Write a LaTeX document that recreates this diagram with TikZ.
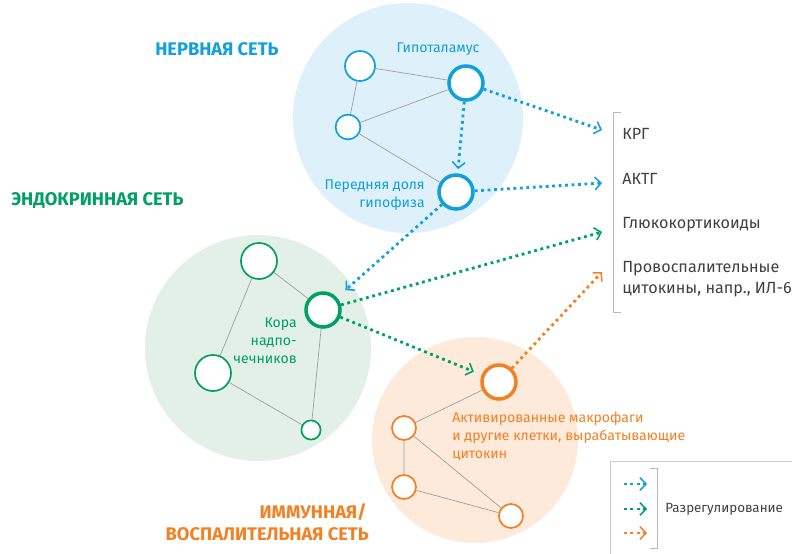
\documentclass[tikz,border=0pt]{standalone}
\usepackage{fontspec}
\setmainfont{Fira Sans}
\usetikzlibrary{arrows.meta}
\definecolor{nervblau}{RGB}{18,160,220}
\definecolor{nervhell}{RGB}{222,240,250}
\definecolor{endogruen}{RGB}{0,160,100}
\definecolor{endohell}{RGB}{226,240,232}
\definecolor{immunorange}{RGB}{244,128,36}
\definecolor{immunhell}{RGB}{253,234,219}
\definecolor{textgrau}{RGB}{64,64,64}
\tikzset{
  knot/.style={circle,fill=white,draw,line width=1.2pt,inner sep=0pt},
  hub/.style={knot,line width=2.5pt,minimum size=0.85cm},
  kante/.style={draw=gray!75,line width=0.5pt},
  dysreg/.style={line width=2pt,dash pattern=on 2pt off 2.6pt,
    -{Straight Barb[length=1.5mm,width=3.2mm,line width=1.1pt]}},
  titel/.style={font=\fontsize{13}{15}\selectfont\bfseries,inner sep=0pt},
  beschr/.style={font=\fontsize{10}{12.8}\selectfont,inner sep=0pt},
  liste/.style={font=\fontsize{11.5}{15.5}\selectfont,text=textgrau,anchor=base west,inner sep=0pt}
}
\begin{document}
\begin{tikzpicture}[x=0.025cm,y=-0.025cm]
\useasboundingbox (0,0) rectangle (792,554);
%netze%
\fill [nervhell] (408,118) circle (115);
\fill [endohell] (258,348) circle (113);
\fill [immunhell] (475,440) circle (103);

%nervensystem%
\node [knot,draw=nervblau,minimum size=0.75cm] (n1) at (360,66) {};
\node [hub,draw=nervblau] (hyp) at (466,83) {};
\node [knot,draw=nervblau,minimum size=0.62cm] (n2) at (348,127) {};
\node [hub,draw=nervblau] (hyph) at (456,192) {};
\draw [kante] (n1)--(hyp) (n1)--(n2) (n2)--(hyp) (n2)--(hyph);

%endokrin%
\node [knot,draw=endogruen,minimum size=0.9cm] (g1) at (259,261) {};
\node [hub,draw=endogruen] (kora) at (323,310) {};
\node [knot,draw=endogruen,minimum size=0.9cm] (g2) at (213,373) {};
\node [knot,draw=endogruen,minimum size=0.48cm] (g3) at (311,430) {};
\draw [kante] (g1)--(kora) (g1)--(g2) (g2)--(g3) (kora)--(g3);

%immun%
\node [hub,draw=immunorange] (makro) at (499,382) {};
\node [knot,draw=immunorange,minimum size=0.6cm] (o1) at (404,428) {};
\node [knot,draw=immunorange,minimum size=0.6cm] (o2) at (404,487) {};
\node [knot,draw=immunorange,minimum size=0.6cm] (o3) at (511,516) {};
\draw [kante] (makro)--(o1) (o1)--(o2) (o1)--(o3) (o2)--(o3);

%liste%
\draw [gray!55,line width=0.6pt] (621,112)--(613,112)--(613,312)--(621,312);
\node [liste] (krg) at (622,139) {КРГ};
\node [liste] (aktg) at (622,184) {АКТГ};
\node [liste] (gluko) at (622,228) {Глюкокортикоиды};
\node [liste] (zyto) at (622,272) {Провоспалительные};
\node [liste] (zyto2) at (622,293) {цитокины, напр., ИЛ-6};
\coordinate (z1) at (602,130);
\coordinate (z2) at (602,183);
\coordinate (z3) at (602,232);
\coordinate (z4) at (602,272);

%pfeile%
\draw [dysreg,nervblau] (hyp)--(z1);
\draw [dysreg,nervblau,shorten >=3pt] (hyp)--(hyph);
\draw [dysreg,nervblau] (hyph)--(z2);
\draw [dysreg,nervblau,shorten >=8pt] (hyph)--(kora);
\draw [dysreg,endogruen] (kora)--(z3);
\draw [dysreg,endogruen,shorten >=6pt] (kora)--(makro);
\draw [dysreg,immunorange] (makro)--(z4);

%texte%
\node [titel,text=nervblau,anchor=base west] (tn) at (155,55) {НЕРВНАЯ СЕТЬ};
\node [titel,text=endogruen,anchor=base west] (te) at (11,205) {ЭНДОКРИННАЯ СЕТЬ};
\node [titel,text=immunorange,anchor=base east] (ti) at (367,518) {ИММУННАЯ/};
\node [titel,text=immunorange,anchor=base east] (ti2) at (369,540) {ВОСПАЛИТЕЛЬНАЯ СЕТЬ};
\node [beschr,text=nervblau,anchor=base] (lhyp) at (438,52) {Гипоталамус};
\node [beschr,text=nervblau,anchor=base east,align=right] (lhyph) at (425,207) {Передняя доля\\гипофиза};
\node [beschr,text=endogruen,anchor=base east,align=right] (lkora) at (297,363) {Кора\\надпо-\\чечников};
\node [beschr,text=immunorange,anchor=base west,align=left] (lmakro) at (452,458) {Активированные макрофаги\\и другие клетки, вырабатывающие\\цитокин};

%legende%
\draw [gray!40,line width=0.6pt] (610,560)--(610,461)--(800,461);
\draw [gray!55,line width=0.6pt] (650,468)--(657,468)--(657,548)--(650,548);
\coordinate (la1) at (624,484); \coordinate (lb1) at (647,484);
\coordinate (la2) at (624,509); \coordinate (lb2) at (647,509);
\coordinate (la3) at (624,533); \coordinate (lb3) at (647,533);
\draw [dysreg,nervblau] (la1)--(lb1);
\draw [dysreg,endogruen] (la2)--(lb2);
\draw [dysreg,immunorange] (la3)--(lb3);
\node [font=\fontsize{9.5}{12}\selectfont,text=textgrau,anchor=west,inner sep=0pt] (leg) at (665,509) {Разрегулирование};
\end{tikzpicture}
\end{document}
